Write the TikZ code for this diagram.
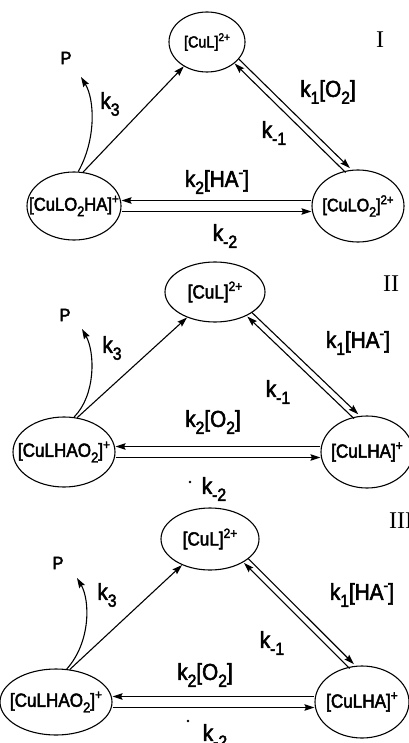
\documentclass[tikz,border=0pt]{standalone}
\usepackage{fontspec}
\setmainfont{Liberation Sans}[FakeBold=2.5, FakeStretch=0.9]
\newfontfamily\romanfont{Liberation Serif}
\usetikzlibrary{arrows.meta,shapes.geometric}

% lowered / raised small text for chemical formulas and rate constants
\newcommand\dnx[1]{\raisebox{-0.3em}{\scalebox{0.76}{#1}}}
\newcommand\upx[1]{\raisebox{0.4em}{\scalebox{0.7}{#1}}}

\tikzset{
  species/.style={draw, ellipse, line width=1.1pt, inner sep=0pt},
  arr/.style={line width=1.1pt, -{Stealth[length=10pt,width=6.5pt,inset=1.5pt]}},
  rate/.style={inner sep=0pt, font=\fontsize{23}{23}\selectfont},
  spl/.style={inner sep=0pt, font=\fontsize{#1}{#1}\selectfont},
  roman/.style={inner sep=0pt, anchor=west, font=\romanfont\fontsize{24}{24}\selectfont},
}

\begin{document}
\begin{tikzpicture}[x=1pt, y=-1pt]
\useasboundingbox (0,0) rectangle (408,743);

% ---------------- scheme I ----------------
\node[species, minimum width=76pt, minimum height=60pt,
      label={[spl=16]center:[CuL]\upx{2+}}] (T1) at (207,42) {};
\node[species, minimum width=94pt, minimum height=68pt,
      label={[spl=18.5]center:[CuLO\dnx{2}HA]\upx{+}}] (L1) at (74,206) {};
\node[species, minimum width=92pt, minimum height=72pt,
      label={[spl=18]center:[CuLO\dnx{2}]\upx{2+}}] (R1) at (358,206) {};
\node[roman] (n1) at (376,40) {I};
\node[spl=18] (P1) at (66,58) {P};
\coordinate (tip1) at (81,77);

\draw[arr] (L1.75) -- (T1);
\draw[arr] (L1.83) .. controls (96,140) and (95,100) .. (tip1);
\draw[arr] ([shift={(2.1pt,2.2pt)}]T1.-33) -- ([shift={(2.1pt,2.2pt)}]R1.106);
\draw[arr] ([shift={(-2.1pt,-2.2pt)}]R1.106) -- ([shift={(-2.1pt,-2.2pt)}]T1.-33);
\draw[arr] ([yshift=5.5pt]R1.west) -- ([yshift=5.5pt]L1.east);
\draw[arr] ([yshift=-5.5pt]L1.east) -- ([yshift=-5.5pt]R1.west);

\node[rate] (k31) at (110,104) {k\dnx{3}};
\node[rate] (k11) at (328,92) {k\dnx{1}[O\dnx{2}]};
\node[rate] (km11) at (274,133) {k\dnx{-1}};
\node[rate] (k21) at (217,182) {k\dnx{2}[HA\upx{-}]};
\node[rate] (km21) at (225,236) {k\dnx{-2}};

% ---------------- scheme II ----------------
\node[species, minimum width=100pt, minimum height=60pt,
      label={[spl=19]center:[CuL]\upx{2+}}] (T2) at (215,292) {};
\node[species, minimum width=102pt, minimum height=70pt,
      label={[spl=19]center:[CuLHAO\dnx{2}]\upx{+}}] (L2) at (64,452) {};
\node[species, minimum width=92pt, minimum height=72pt,
      label={[spl=19]center:[CuLHA]\upx{+}}] (R2) at (367,452) {};
\node[roman] (n2) at (383,284) {II};
\node[spl=18] (P2) at (65,315) {P};
\coordinate (tip2) at (82,329);

\draw[arr] (L2.69) -- (T2);
\draw[arr] (L2.74) .. controls (96,395) and (95,352) .. (tip2);
\draw[arr] ([shift={(2.1pt,2.2pt)}]T2.-33) -- ([shift={(2.1pt,2.2pt)}]R2.107);
\draw[arr] ([shift={(-2.1pt,-2.2pt)}]R2.107) -- ([shift={(-2.1pt,-2.2pt)}]T2.-33);
\draw[arr] ([yshift=5.5pt]R2.west) -- ([yshift=5.5pt]L2.east);
\draw[arr] ([yshift=-5.5pt]L2.east) -- ([yshift=-5.5pt]R2.west);

\node[rate] (k32) at (112,348) {k\dnx{3}};
\node[rate] (k12) at (358,343) {k\dnx{1}[HA\upx{-}]};
\node[rate] (km12) at (278,392) {k\dnx{-1}};
\node[rate] (k22) at (213,422) {k\dnx{2}[O\dnx{2}]};
\node[rate] (km22) at (214,489) {k\dnx{-2}};
\fill (190,482) circle (1.3pt);

% ---------------- scheme III ----------------
\node[species, minimum width=98pt, minimum height=62pt,
      label={[spl=19]center:[CuL]\upx{2+}}] (T3) at (210,539) {};
\node[species, minimum width=112pt, minimum height=66pt,
      label={[spl=19]center:[CuLHAO\dnx{2}]\upx{+}}] (L3) at (56,702) {};
\node[species, minimum width=94pt, minimum height=72pt,
      label={[spl=19]center:[CuLHA]\upx{+}}] (R3) at (362,702) {};
\node[roman] (n3) at (389,521) {III};
\node[spl=18] (P3) at (58,563) {P};
\coordinate (tip3) at (77,578);

\draw[arr] (L3.67) -- (T3);
\draw[arr] (L3.72) .. controls (91,642) and (90,600) .. (tip3);
\draw[arr] ([shift={(2.1pt,2.2pt)}]T3.-31) -- ([shift={(2.1pt,2.2pt)}]R3.106);
\draw[arr] ([shift={(-2.1pt,-2.2pt)}]R3.106) -- ([shift={(-2.1pt,-2.2pt)}]T3.-31);
\draw[arr] ([yshift=5.5pt]R3.west) -- ([yshift=5.5pt]L3.east);
\draw[arr] ([yshift=-5.5pt]L3.east) -- ([yshift=-5.5pt]R3.west);

\node[rate] (k33) at (107,595) {k\dnx{3}};
\node[rate] (k13) at (362,595) {k\dnx{1}[HA\upx{-}]};
\node[rate] (km13) at (272,643) {k\dnx{-1}};
\node[rate] (k23) at (205,675) {k\dnx{2}[O\dnx{2}]};
\node[rate] (km23) at (215,736) {k\dnx{-2}};
\fill (188,721) circle (1.3pt);
\end{tikzpicture}
\end{document}
